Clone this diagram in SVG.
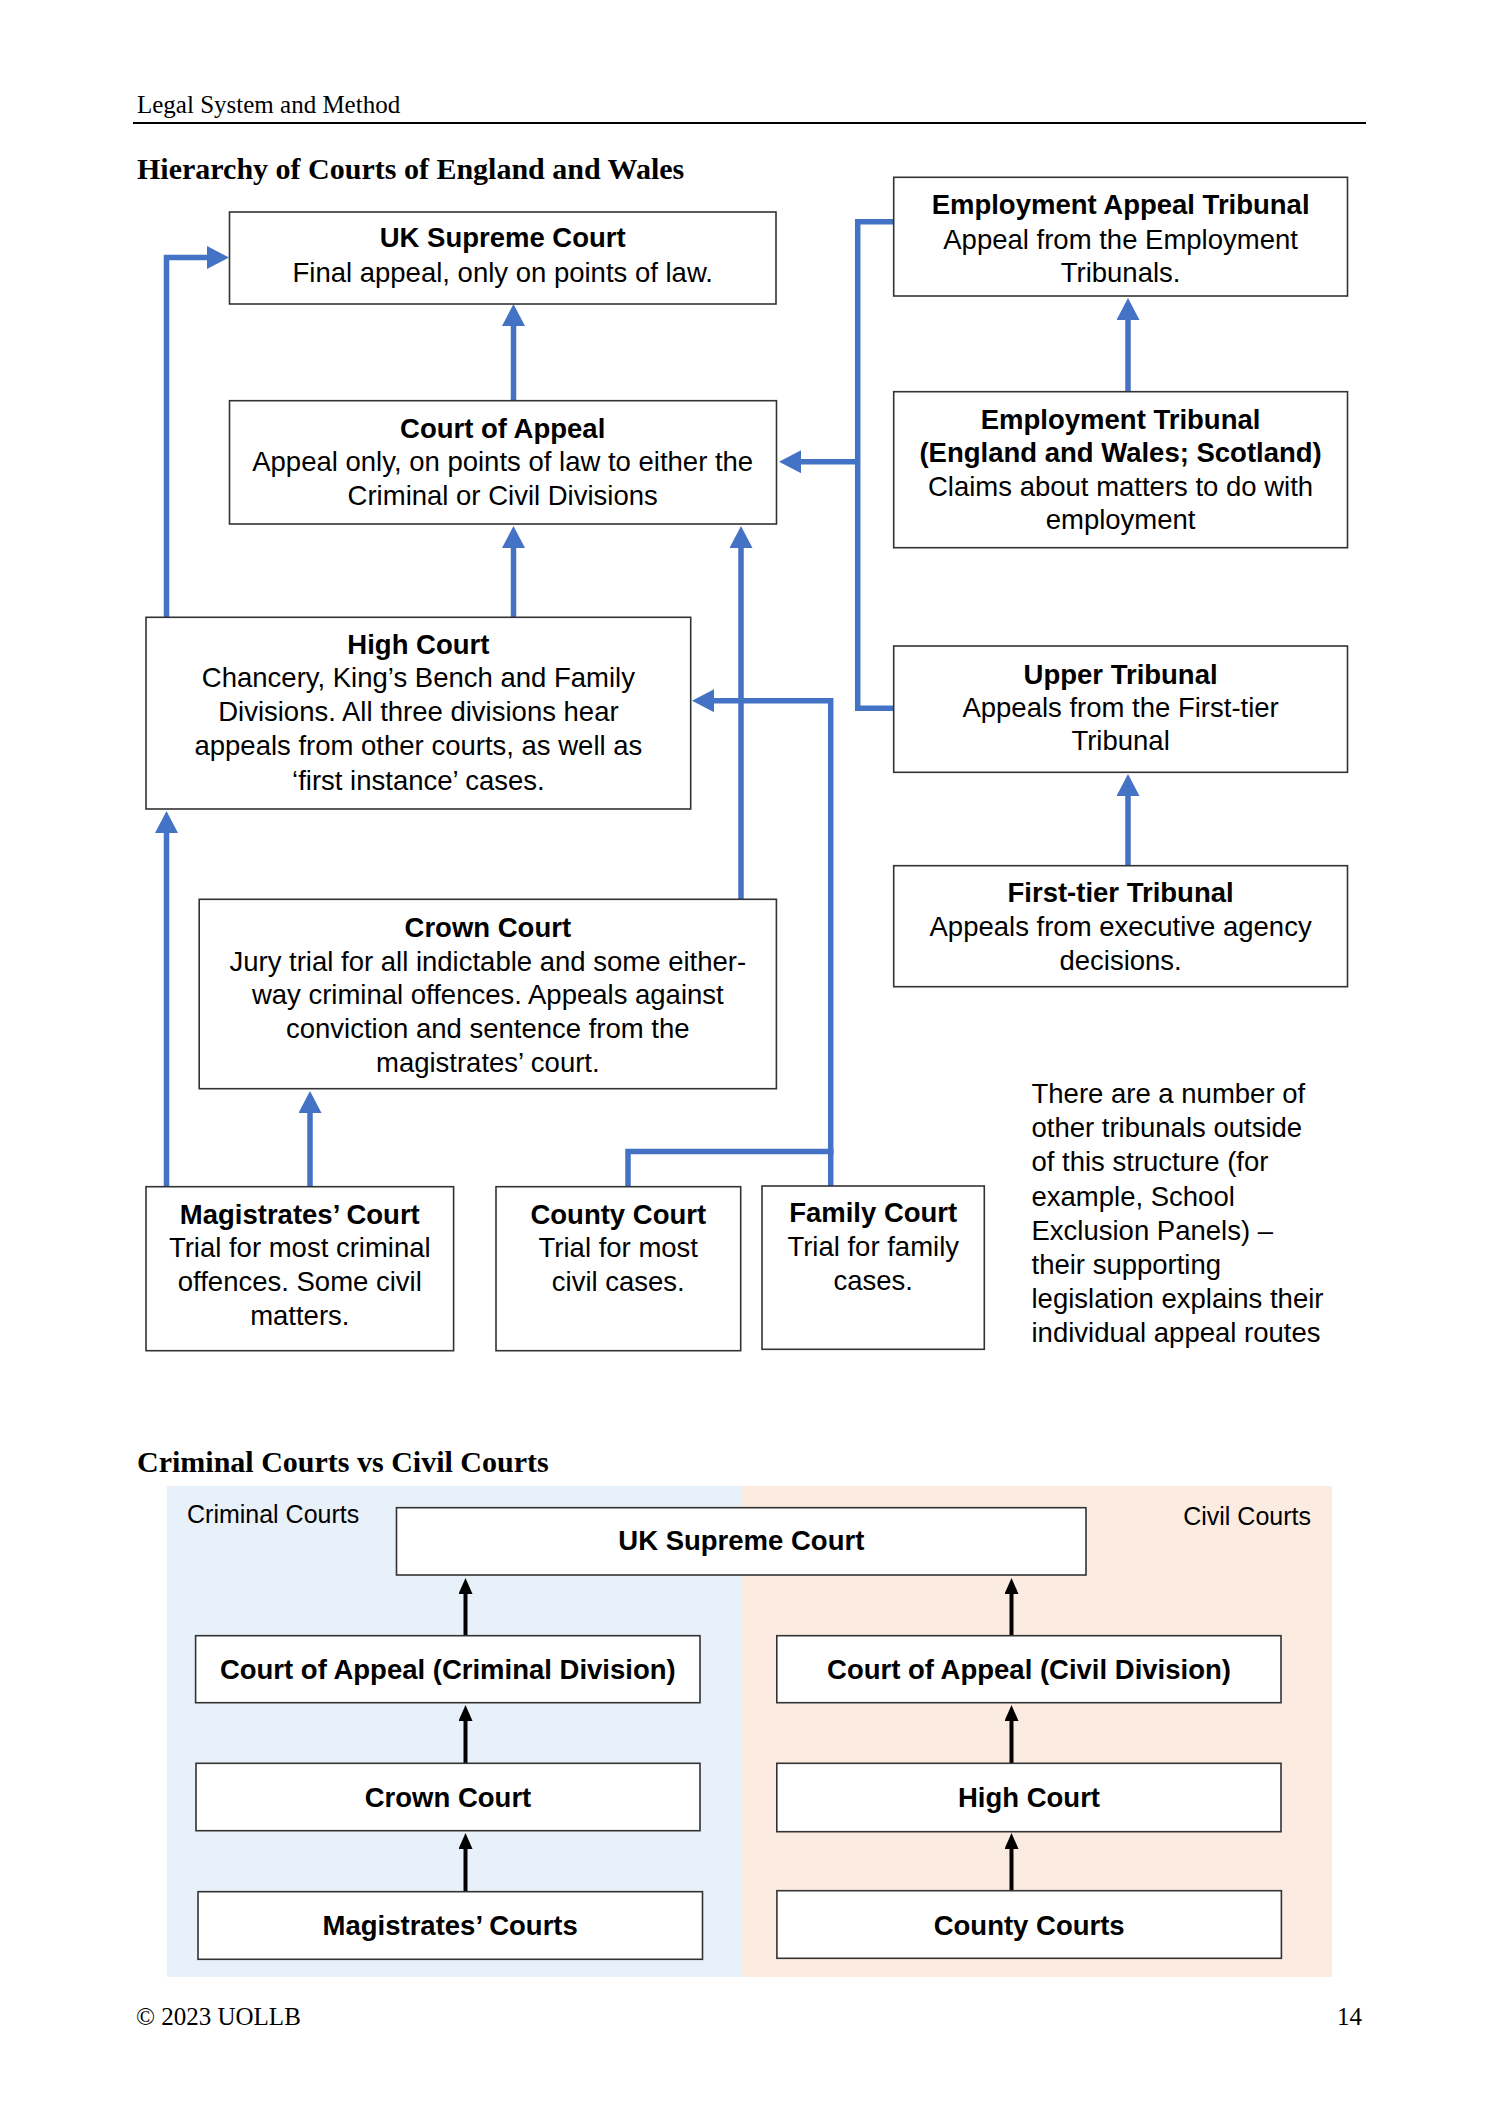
<svg xmlns="http://www.w3.org/2000/svg" width="1500" height="2122" viewBox="0 0 1500 2122">
<style>
.bg{fill:#ffffff}
.box{fill:#ffffff;stroke:#333333;stroke-width:1.6}
.t{font-family:"Liberation Sans",Arial,sans-serif;font-size:27.5px;fill:#000;text-anchor:middle}
.b{font-weight:bold}
.serif{font-family:"Liberation Serif","Times New Roman",serif;fill:#000}
.blue{fill:none;stroke:#4472C4;stroke-width:5.5}
.black{fill:none;stroke:#000;stroke-width:4}
.note{font-family:"Liberation Sans",Arial,sans-serif;font-size:27.5px;fill:#000}
.lab{font-family:"Liberation Sans",Arial,sans-serif;font-size:25px;fill:#000}
</style>
<defs>
<marker id="ab" markerUnits="userSpaceOnUse" markerWidth="22" markerHeight="23" refX="1" refY="11.5" orient="auto" viewBox="0 0 22 23">
<path d="M0,0 L22,11.5 L0,23 Z" fill="#4472C4"/>
</marker>
<marker id="ak" markerUnits="userSpaceOnUse" markerWidth="16" markerHeight="14" refX="1" refY="7" orient="auto" viewBox="0 0 16 14">
<path d="M0,0 L16,7 L0,14 Z" fill="#000"/>
</marker>
</defs>
<rect class="bg" x="0" y="0" width="1500" height="2122"/>

<g id="page">
<text class="serif" x="137" y="113" font-size="25">Legal System and Method</text>
<line x1="133" y1="123" x2="1366" y2="123" stroke="#000" stroke-width="2"/>
<text class="serif" x="137" y="179" font-size="30" font-weight="bold">Hierarchy of Courts of England and Wales</text>
<text class="serif" x="137" y="1472" font-size="30" font-weight="bold">Criminal Courts vs Civil Courts</text>
<text class="serif" x="136" y="2025" font-size="25">© 2023 UOLLB</text>
<text class="serif" x="1362" y="2025" font-size="25" text-anchor="end">14</text>
</g>

<g id="connectors">
<path class="blue" d="M513.5,400.7 V325" marker-end="url(#ab)"/>
<path class="blue" d="M513.5,617.3 V547" marker-end="url(#ab)"/>
<path class="blue" d="M166.5,617.3 V257.5 H208" marker-end="url(#ab)"/>
<path class="blue" d="M166.5,1186.7 V832" marker-end="url(#ab)"/>
<path class="blue" d="M310,1186.7 V1112" marker-end="url(#ab)"/>
<path class="blue" d="M741,899.3 V547" marker-end="url(#ab)"/>
<path class="blue" d="M628,1186.7 V1151.5 H833.5"/>
<path class="blue" d="M830.7,1186 V700.7 H713" marker-end="url(#ab)"/>
<path class="blue" d="M893.7,221.7 H857.7 V708.3 H893.7"/>
<path class="blue" d="M857.7,461.7 H800" marker-end="url(#ab)"/>
<path class="blue" d="M1128,391.7 V319" marker-end="url(#ab)"/>
<path class="blue" d="M1128,865.7 V795" marker-end="url(#ab)"/>
</g>

<g id="panels">
<rect x="167" y="1486" width="574" height="491" fill="#E8F0F9"/>
<rect x="741" y="1486" width="591" height="491" fill="#FCEBE1"/>
<text class="lab" x="187" y="1523">Criminal Courts</text>
<text class="lab" x="1311" y="1525" text-anchor="end">Civil Courts</text>
</g>

<g id="connectors-bottom">
<path class="black" d="M465.5,1635.7 V1593" marker-end="url(#ak)"/>
<path class="black" d="M465.5,1763.3 V1720" marker-end="url(#ak)"/>
<path class="black" d="M465.5,1891.7 V1848" marker-end="url(#ak)"/>
<path class="black" d="M1011.5,1635.7 V1593" marker-end="url(#ak)"/>
<path class="black" d="M1011.5,1763.3 V1720" marker-end="url(#ak)"/>
<path class="black" d="M1011.5,1890.7 V1848" marker-end="url(#ak)"/>
</g>

<g id="uksc">
<rect class="box" x="229.5" y="212" width="546.5" height="92"/>
<text class="t b" x="502.7" y="247">UK Supreme Court</text>
<text class="t" x="502.7" y="282">Final appeal, only on points of law.</text>
</g>

<g id="coa">
<rect class="box" x="229.5" y="400.7" width="547" height="123.3"/>
<text class="t b" x="502.7" y="437.5">Court of Appeal</text>
<text class="t" x="502.7" y="471">Appeal only, on points of law to either the</text>
<text class="t" x="502.7" y="505">Criminal or Civil Divisions</text>
</g>

<g id="high-court">
<rect class="box" x="146" y="617.3" width="544.7" height="191.7"/>
<text class="t b" x="418.4" y="653.5">High Court</text>
<text class="t" x="418.4" y="687">Chancery, King’s Bench and Family</text>
<text class="t" x="418.4" y="721">Divisions. All three divisions hear</text>
<text class="t" x="418.4" y="755">appeals from other courts, as well as</text>
<text class="t" x="418.4" y="789.5">‘first instance’ cases.</text>
</g>

<g id="crown-court">
<rect class="box" x="199.2" y="899.3" width="577.2" height="189.4"/>
<text class="t b" x="487.8" y="937">Crown Court</text>
<text class="t" x="487.8" y="970.5">Jury trial for all indictable and some either-</text>
<text class="t" x="487.8" y="1004">way criminal offences. Appeals against</text>
<text class="t" x="487.8" y="1037.5">conviction and sentence from the</text>
<text class="t" x="487.8" y="1071.5">magistrates’ court.</text>
</g>

<g id="magistrates">
<rect class="box" x="146" y="1186.7" width="307.6" height="164"/>
<text class="t b" x="299.8" y="1223.5">Magistrates’ Court</text>
<text class="t" x="299.8" y="1257">Trial for most criminal</text>
<text class="t" x="299.8" y="1291">offences. Some civil</text>
<text class="t" x="299.8" y="1325">matters.</text>
</g>

<g id="county">
<rect class="box" x="496" y="1186.7" width="244.7" height="164"/>
<text class="t b" x="618.3" y="1223.5">County Court</text>
<text class="t" x="618.3" y="1257">Trial for most</text>
<text class="t" x="618.3" y="1291">civil cases.</text>
</g>

<g id="family">
<rect class="box" x="762" y="1186" width="222.3" height="163.3"/>
<text class="t b" x="873.2" y="1222">Family Court</text>
<text class="t" x="873.2" y="1256">Trial for family</text>
<text class="t" x="873.2" y="1290">cases.</text>
</g>

<g id="eat">
<rect class="box" x="893.7" y="177.3" width="453.8" height="118.7"/>
<text class="t b" x="1120.6" y="213.5">Employment Appeal Tribunal</text>
<text class="t" x="1120.6" y="248.5">Appeal from the Employment</text>
<text class="t" x="1120.6" y="282">Tribunals.</text>
</g>

<g id="et">
<rect class="box" x="893.7" y="391.7" width="453.8" height="156"/>
<text class="t b" x="1120.6" y="428.5">Employment Tribunal</text>
<text class="t b" x="1120.6" y="462">(England and Wales; Scotland)</text>
<text class="t" x="1120.6" y="495.5">Claims about matters to do with</text>
<text class="t" x="1120.6" y="528.5">employment</text>
</g>

<g id="upper-tribunal">
<rect class="box" x="893.7" y="646" width="453.8" height="126.3"/>
<text class="t b" x="1120.6" y="683.5">Upper Tribunal</text>
<text class="t" x="1120.6" y="717">Appeals from the First-tier</text>
<text class="t" x="1120.6" y="750">Tribunal</text>
</g>

<g id="first-tier">
<rect class="box" x="893.7" y="865.7" width="453.8" height="121"/>
<text class="t b" x="1120.6" y="902">First-tier Tribunal</text>
<text class="t" x="1120.6" y="935.5">Appeals from executive agency</text>
<text class="t" x="1120.6" y="970">decisions.</text>
</g>

<g id="note">
<text class="note" x="1031.5" y="1103">There are a number of</text>
<text class="note" x="1031.5" y="1137">other tribunals outside</text>
<text class="note" x="1031.5" y="1171">of this structure (for</text>
<text class="note" x="1031.5" y="1205.5">example, School</text>
<text class="note" x="1031.5" y="1239.5">Exclusion Panels) –</text>
<text class="note" x="1031.5" y="1273.5">their supporting</text>
<text class="note" x="1031.5" y="1307.5">legislation explains their</text>
<text class="note" x="1031.5" y="1341.5">individual appeal routes</text>
</g>

<g id="b-uksc">
<rect class="box" x="396.5" y="1507.7" width="689.5" height="67.3"/>
<text class="t b" x="741.3" y="1550">UK Supreme Court</text>
</g>
<g id="b-coa-crim">
<rect class="box" x="195.6" y="1635.7" width="504.4" height="67"/>
<text class="t b" x="447.8" y="1678.5">Court of Appeal (Criminal Division)</text>
</g>
<g id="b-crown">
<rect class="box" x="196" y="1763.3" width="504" height="67.4"/>
<text class="t b" x="448" y="1806.5">Crown Court</text>
</g>
<g id="b-mags">
<rect class="box" x="198" y="1891.7" width="504.5" height="67.6"/>
<text class="t b" x="450.2" y="1935">Magistrates’ Courts</text>
</g>
<g id="b-coa-civ">
<rect class="box" x="776.8" y="1635.7" width="504.2" height="67"/>
<text class="t b" x="1029" y="1678.5">Court of Appeal (Civil Division)</text>
</g>
<g id="b-high">
<rect class="box" x="776.8" y="1763.3" width="504.2" height="68.4"/>
<text class="t b" x="1029" y="1807">High Court</text>
</g>
<g id="b-county">
<rect class="box" x="776.9" y="1890.7" width="504.5" height="67.6"/>
<text class="t b" x="1029.2" y="1934.5">County Courts</text>
</g>
</svg>
